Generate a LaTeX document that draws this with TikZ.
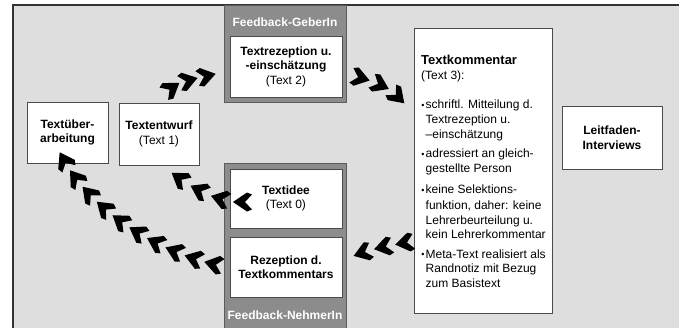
\documentclass[tikz,border=0pt]{standalone}
\usepackage{fontspec}
\setmainfont{Liberation Sans}
\usetikzlibrary{decorations.markings}
\definecolor{bg}{HTML}{DEDEDE}
\definecolor{panel}{HTML}{8C8C8C}
\definecolor{paneledge}{HTML}{5C5C5C}
\definecolor{boxedge}{HTML}{4A4A4A}
\begin{document}
\begin{tikzpicture}[x=1pt,y=-1pt,
  box/.style={draw=boxedge, line width=0.9pt, fill=white, inner sep=0pt, align=center,
    font=\fontsize{12}{14.5}\selectfont},
  panelbox/.style={draw=paneledge, line width=1pt, fill=panel, inner sep=0pt},
  paneltext/.style={text=white, font=\fontsize{12}{14}\selectfont\bfseries, inner sep=0pt},
  kline/.style={anchor=base west, inner sep=0pt, font=\fontsize{12}{14}\selectfont},
  chevs/.style={decoration={markings, mark=between positions 0 and 1 step #1 with
    {\fill[black] (9,0) -- (-5,9.5) -- (-10,7.5) -- (-3,0) -- (-10,-7.5) -- (-5,-9.5) -- cycle;}},
    postaction={decorate}}]
\useasboundingbox (0,0) rectangle (686,327);
\clip (0,0) rectangle (686,327);
% background
\fill[bg] (13,5) rectangle (679,340);
\draw[black!80, line width=1.3pt] (13,340) -- (13,5) -- (679,5);
% panels
\node[panelbox, minimum width=122pt, minimum height=97pt] (geber) at (285,53.5) {};
\node[paneltext] (geberlbl) at (285,22) {Feedback-GeberIn};
\node[panelbox, minimum width=122pt, minimum height=172pt] (nehmer) at (285,249) {};
\node[paneltext] (nehmerlbl) at (285,315) {Feedback-NehmerIn};
% boxes
\node[box, minimum width=81pt, minimum height=61pt] (ueber) at (67.5,132.5) {\textbf{Textüber-}\\\textbf{arbeitung}};
\node[box, minimum width=80pt, minimum height=62pt] (entwurf) at (159,134) {\textbf{Textentwurf}\\(Text 1)};
\node[box, minimum width=112pt, minimum height=61pt] (rezept) at (286,66.5) {\textbf{Textrezeption u.}\\\textbf{-einschätzung}\\(Text 2)};
\node[box, minimum width=112pt, minimum height=59pt] (idee) at (286,198.5) {\textbf{Textidee}\\(Text 0)};
\node[box, minimum width=112pt, minimum height=60pt] (rezkom) at (286,267) {\textbf{Rezeption d.}\\\textbf{Textkommentars}};
\node[box, minimum width=100pt, minimum height=63pt] (leit) at (612,137.5) {\textbf{Leitfaden-}\\\textbf{Interviews}};
\node[box, minimum width=138pt, minimum height=285pt] (komm) at (483,170.5) {};
% Textkommentar text
\newcommand\kbul{\llap{\raisebox{0.3pt}{\fontsize{9}{9}\selectfont •}\hspace{1.2pt}}}
\node[kline, font=\fontsize{13}{14}\selectfont\bfseries] (k1) at (421,64.5) {Textkommentar};
\node[kline] (k2) at (421,79) {(Text 3):};
\node[kline] (k3) at (425.5,108.5) {\kbul schriftl. Mitteilung d.};
\node[kline] (k4) at (425.5,123.5) {Textrezeption u.};
\node[kline] (k5) at (425.5,138.5) {–einschätzung};
\node[kline] (k6) at (425.5,157.5) {\kbul adressiert an gleich-};
\node[kline] (k7) at (425.5,172) {gestellte Person};
\node[kline] (k8) at (425.5,193.5) {\kbul keine Selektions-};
\node[kline] (k9) at (425.5,209) {funktion, daher: keine};
\node[kline] (k10) at (425.5,224) {Lehrerbeurteilung u.};
\node[kline] (k11) at (425.5,238.5) {kein Lehrerkommentar};
\node[kline] (k12) at (425.5,258) {\kbul Meta-Text realisiert als};
\node[kline] (k13) at (425.5,272.5) {Randnotiz mit Bezug};
\node[kline] (k14) at (425.5,287.5) {zum Basistext};
% chevron connectors
\coordinate (g1s) at (172,88);   \coordinate (g1e) at (207,76);
\coordinate (g2s) at (361,78);   \coordinate (g2e) at (398,97);
\coordinate (g3s) at (404,243);  \coordinate (g3e) at (362,253);
\coordinate (g4s) at (242,202);  \coordinate (g4e) at (179,178);
\coordinate (g5s) at (213,264);  \coordinate (g5e) at (64,160);
\path[chevs=0.499] (g1s) .. controls (182,81) and (195,79) .. (g1e);
\path[chevs=0.499] (g2s) .. controls (375,82) and (388,87) .. (g2e);
\path[chevs=0.499] (g3s) .. controls (390,245.5) and (375,248.5) .. (g3e);
\path[chevs=0.333] (g4s) .. controls (220,202) and (197,190.5) .. (g4e);
\path[chevs=0.111] (g5s) .. controls (156,250) and (93,212) .. (g5e);
\end{tikzpicture}
\end{document}
